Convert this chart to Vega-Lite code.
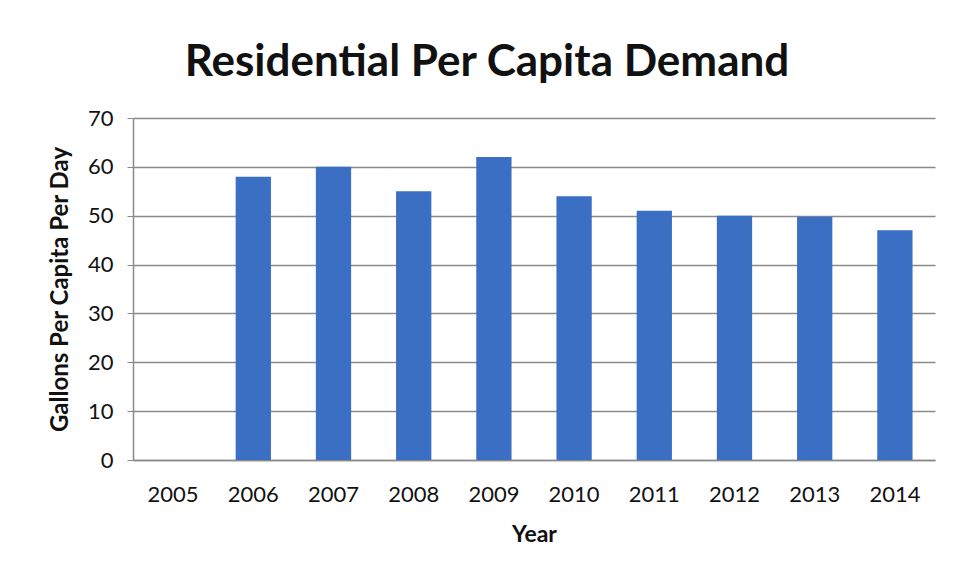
{
  "$schema": "https://vega.github.io/schema/vega-lite/v6.json",
  "width": 802,
  "height": 342,
  "autosize": {"type": "none"},
  "padding": {"left": 133, "top": 118, "right": 21, "bottom": 124},
  "background": "white",
  "title": {
    "text": "Residential Per Capita Demand",
    "font": "Lato",
    "fontSize": 44,
    "fontWeight": "bold",
    "color": "#111111",
    "anchor": "middle",
    "dx": -47,
    "offset": 22
  },
  "data": {
    "values": [
      {"Year": "2005", "Gallons": 0},
      {"Year": "2006", "Gallons": 58},
      {"Year": "2007", "Gallons": 60},
      {"Year": "2008", "Gallons": 55},
      {"Year": "2009", "Gallons": 62},
      {"Year": "2010", "Gallons": 54},
      {"Year": "2011", "Gallons": 51},
      {"Year": "2012", "Gallons": 50},
      {"Year": "2013", "Gallons": 49.8},
      {"Year": "2014", "Gallons": 47}
    ]
  },
  "mark": {"type": "bar", "color": "#3a6fc3"},
  "encoding": {
    "x": {
      "field": "Year",
      "type": "ordinal",
      "scale": {"paddingInner": 0.56, "paddingOuter": 0.28},
      "axis": {
        "title": "Year",
        "labelAngle": 0,
        "labelFont": "Lato",
        "labelFontSize": 22,
        "labelColor": "#111111",
        "labelPadding": 24,
        "ticks": false,
        "domainColor": "#8a8a8a",
        "domainWidth": 1.5,
        "titleFont": "Lato",
        "titleFontSize": 23,
        "titleFontWeight": "bold",
        "titleColor": "#111111",
        "titlePadding": 18
      }
    },
    "y": {
      "field": "Gallons",
      "type": "quantitative",
      "scale": {"domain": [0, 70]},
      "axis": {
        "title": "Gallons Per Capita Per Day",
        "values": [0, 10, 20, 30, 40, 50, 60, 70],
        "labelFont": "Lato",
        "labelFontSize": 22,
        "labelColor": "#111111",
        "labelPadding": 14,
        "tickSize": 6,
        "tickColor": "#8a8a8a",
        "domainColor": "#8a8a8a",
        "domainWidth": 1.5,
        "grid": true,
        "gridColor": "#8a8a8a",
        "gridWidth": 1.5,
        "titleFont": "Lato",
        "titleFontSize": 24,
        "titleFontWeight": "bold",
        "titleColor": "#111111",
        "titlePadding": 15
      }
    }
  },
  "config": {"view": {"stroke": null}}
}
